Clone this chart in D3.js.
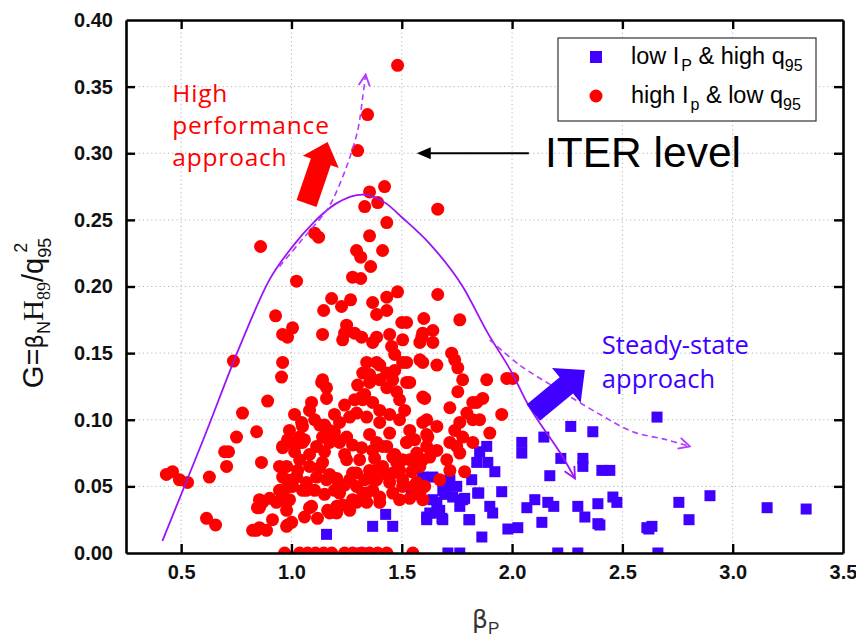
<!DOCTYPE html>
<html><head><meta charset="utf-8">
<script src="https://cdn.jsdelivr.net/npm/d3@7/dist/d3.min.js"></script>
<style>body{margin:0;background:#fff}svg{display:block}</style>
</head><body><svg id="c" width="856" height="638"></svg>
<script>
// ---- data (beta_P, G) ----
const xTicks = [0.5,1.0,1.5,2.0,2.5,3.0,3.5];
const yTicks = [0,0.05,0.10,0.15,0.20,0.25,0.30,0.35,0.40];

const blueX = [2.657,2.266,2.366,2.044,2.044,2.144,2.221,2.321,2.321,2.407,2.443,2.171,1.885,1.853,1.840,1.890,1.922,1.817,1.953,1.849,1.776,1.899,1.912,1.808,1.863,1.981,2.026,2.067,2.103,2.162,2.189,2.135,2.298,2.330,2.389,2.389,2.457,2.475,2.611,2.634,2.620,2.756,2.802,2.897,3.156,3.333,1.709,1.763,2.207,2.298,2.661,1.318,1.686,1.731,1.641,1.659,1.686,1.718,1.641,1.595,1.709,1.749,1.695,1.785,1.844,1.659,1.672,1.613,1.682,1.627,1.763,1.804,2.398,1.159,1.368,1.427,1.459,1.613,1.595,1.544,1.187];
const blueY = [0.102,0.095,0.091,0.083,0.075,0.087,0.071,0.071,0.065,0.062,0.062,0.058,0.080,0.076,0.068,0.068,0.061,0.055,0.046,0.045,0.040,0.035,0.030,0.025,0.012,0.018,0.019,0.034,0.040,0.038,0.035,0.023,0.035,0.027,0.037,0.022,0.042,0.038,0.019,0.020,0.018,0.038,0.025,0.043,0.034,0.033,0,0,0,0,0,0,0.047,0.042,0.040,0.030,0.025,0.055,0.057,0.055,0.050,0.050,0.044,0.041,0.045,0.038,0.032,0.027,0.026,0.030,0.035,0.025,0.021,0.014,0.020,0.029,0.020,0.025,0.057,0.044,0.030];

const redX = [1.481,1.345,1.300,1.354,1.422,1.391,1.332,1.432,1.663,1.105,1.123,0.860,1.354,1.413,1.295,1.314,1.359,1.277,1.314,1.023,1.182,1.227,1.268,1.146,1.368,1.386,1.432,1.432,1.481,1.663,0.928,1.005,0.982,1.141,1.250,1.241,1.286,1.318,1.445,1.500,1.522,1.600,1.763,1.591,1.641,0.960,1.232,1.368,1.454,1.468,1.582,0.737,0.960,0.955,1.141,1.159,1.159,0.892,0.778,1.091,1.082,1.341,1.386,1.323,1.432,1.459,1.300,1.354,1.318,1.368,1.432,1.477,1.522,1.504,1.595,1.604,1.595,1.613,1.445,1.522,1.218,1.264,1.295,1.173,1.141,1.050,0.991,0.982,1.037,0.751,0.842,1.205,1.250,1.354,1.386,0.433,0.461,0.492,0.529,0.628,0.615,0.656,0.706,0.697,0.715,0.864,0.855,0.842,0.887,0.855,0.978,1.001,0.946,0.978,0.960,1.046,1.037,1.137,1.059,1.091,1.173,1.205,1.128,1.159,1.205,1.218,1.023,1.050,0.991,0.978,0.914,1.250,1.277,1.277,1.323,1.368,1.341,1.400,1.323,1.400,1.386,1.413,1.459,1.504,1.386,1.459,1.504,1.522,1.582,1.536,1.595,1.550,1.595,1.504,1.595,1.641,1.726,1.740,1.754,1.659,1.776,1.885,1.976,2.003,1.754,1.718,1.840,1.867,1.953,1.795,1.822,1.613,1.659,1.740,1.776,1.899,1.618,1.718,1.822,1.822,1.763,1.853,1.749,1.763,1.659,1.627,1.595,1.704,1.718,1.785,1.672,1.604,1.582,0.960,1.005,1.050,1.114,1.173,1.218,1.277,1.318,1.368,1.432,1.522,1.568,1.613,0.978,1.037,1.082,1.141,0.960,1.005,1.068,1.114,1.173,1.205,1.295,1.354,1.413,1.477,1.536,1.582,0.946,1.005,1.068,1.295,1.386,1.445,1.504,1.568,1.341,1.400,1.459,1.490,0.960,0.932,0.869,0.846,0.901,0.978,1.082,1.118,1.164,1.232,1.264,1.205,1.295,1.341,1.400,0.855,0.824,0.982,1.536,1.582,0.969,1.037,1.073,1.109,1.146,1.182,1.241,1.277,1.318,1.354,1.391,1.432,1.550,
  1.014,1.082,1.150,1.241,1.309,1.377,1.468,1.559,0.991,1.028,1.105,1.150,1.195,1.241,1.264,1.332,1.364,1.432,1.490,1.545,1.128,1.195,1.241,1.286,1.332,1.400,1.445,1.490,1.536,1.559,1.014,1.059,1.105,1.150,1.195,1.354,1.400,1.468,1.490,1.513];
const redY = [0.366,0.329,0.302,0.271,0.275,0.263,0.260,0.248,0.258,0.240,0.237,0.230,0.238,0.227,0.227,0.222,0.215,0.207,0.206,0.204,0.191,0.185,0.190,0.182,0.188,0.179,0.182,0.192,0.196,0.194,0.178,0.169,0.162,0.164,0.171,0.165,0.165,0.162,0.164,0.173,0.173,0.176,0.175,0.162,0.167,0.164,0.160,0.158,0.155,0.149,0.158,0.144,0.143,0.132,0.130,0.124,0.116,0.114,0.105,0.113,0.107,0.143,0.143,0.135,0.135,0.130,0.126,0.128,0.117,0.113,0.124,0.121,0.128,0.143,0.143,0.116,0.098,0.089,0.090,0.083,0.098,0.102,0.105,0.092,0.087,0.095,0.092,0.085,0.087,0.087,0.091,0.085,0.087,0.089,0.083,0.059,0.061,0.055,0.053,0.057,0.026,0.021,0.065,0.076,0.076,0.068,0.034,0.017,0.017,0.040,0.020,0.023,0.065,0.055,0.080,0.098,0.083,0.128,0.027,0.035,0.030,0.035,0.064,0.055,0.055,0.045,0.057,0.047,0.050,0.038,0.025,0.070,0.060,0.040,0.045,0.047,0.102,0.098,0.115,0.130,0.162,0.080,0.072,0.070,0.062,0.060,0.160,0.143,0.145,0.128,0.117,0.050,0.040,0.055,0.165,0.158,0.150,0.145,0.139,0.141,0.130,0.130,0.131,0.131,0.121,0.109,0.113,0.116,0.104,0.105,0.100,0.100,0.095,0.092,0.087,0.090,0.087,0.083,0.083,0.113,0.098,0.100,0.080,0.075,0.077,0.072,0.070,0.070,0.062,0.061,0.055,0.050,0.045,0.079,0.083,0.083,0.080,0.083,0.083,0.081,0.079,0.077,0.080,0.083,0.075,0.080,0.065,0.070,0.065,0.068,0.057,0.055,0.053,0.057,0.059,0.056,0.060,0.062,0.065,0.068,0.070,0.065,0.047,0.050,0.047,0.050,0.055,0.053,0.050,0.053,0.045,0.042,0.045,0.040,0.044,0.038,0.038,0.034,0.041,0.032,0.034,0.026,0.032,0.036,0.032,0.030,0.038,0.038,0.038,0.019,0.017,0.021,0.041,0.047,0,0,0,0,0,0,0,0,0,0,0,0,0,
  0.076,0.074,0.076,0.074,0.070,0.071,0.074,0.068,0.040,0.062,0.047,0.044,0.047,0.051,0.055,0.055,0.056,0.059,0.062,0.061,0.096,0.104,0.111,0.115,0.119,0.107,0.104,0.100,0.092,0.085,0.104,0.085,0.100,0.096,0.091,0.134,0.141,0.137,0.115,0.107];

// annotation paths (beta_P, G)
const archX = [0.415,0.600,0.778,0.900,1.000,1.100,1.200,1.323,1.432,1.500,1.627,1.776,1.890,2.000,2.067,2.230,2.285];
const archY = [0.009,0.085,0.160,0.205,0.229,0.248,0.262,0.269,0.262,0.252,0.232,0.200,0.165,0.135,0.113,0.072,0.056];
const upX = [0.946,1.037,1.159,1.187,1.250,1.300,1.323,1.336];
const upY = [0.215,0.233,0.257,0.265,0.290,0.317,0.342,0.359];
const ssX = [1.899,2.035,2.217,2.398,2.547,2.700,2.806];
const ssY = [0.160,0.141,0.122,0.104,0.091,0.085,0.080];

// ---- drawing ----
const W=856,H=638, L=126,T=20,R=843,B=553;
const svg = d3.select("#c");
const x = d3.scaleLinear([0.25,3.5],[L,R]);
const y = d3.scaleLinear([0,0.4],[B,T]);
const PURPLE="#9b14f5", BLUE="#4000ff", RED="#ff0000", DASH="#b23cff";

svg.append("rect").attr("width",W).attr("height",H).attr("fill","#fff");
const defs = svg.append("defs");
defs.append("clipPath").attr("id","clip").append("rect").attr("x",L).attr("y",T).attr("width",R-L).attr("height",B-T);
function vmarker(id,color){
  defs.append("marker").attr("id",id).attr("viewBox","0 0 10 10").attr("refX",9).attr("refY",5)
   .attr("markerWidth",14).attr("markerHeight",14).attr("markerUnits","userSpaceOnUse").attr("orient","auto")
   .append("path").attr("d","M1,1 L9,5 L1,9").attr("fill","none").attr("stroke",color).attr("stroke-width",1.3);
}
vmarker("mArch",PURPLE); vmarker("mDash",DASH);

// grid
const grid = svg.append("g").attr("stroke","#b5b5b5").attr("stroke-width",1).attr("stroke-dasharray","1.2,3");
grid.selectAll(".gx").data(xTicks.slice(0,-1)).join("line").attr("x1",d=>x(d)).attr("x2",d=>x(d)).attr("y1",T).attr("y2",B);
grid.selectAll(".gy").data(yTicks.slice(1,-1)).join("line").attr("x1",L).attr("x2",R).attr("y1",d=>y(d)).attr("y2",d=>y(d));

// points
const pts = svg.append("g").attr("clip-path","url(#clip)");
const blue = blueX.map((v,i)=>[v,blueY[i]]);
const red = redX.map((v,i)=>[v,redY[i]]);
pts.selectAll(".b").data(blue).join("rect").attr("x",d=>x(d[0])-5.5).attr("y",d=>y(d[1])-5.5)
  .attr("width",11).attr("height",11).attr("fill",BLUE);
pts.selectAll(".r").data(red).join("circle").attr("cx",d=>x(d[0])).attr("cy",d=>y(d[1])).attr("r",6.5).attr("fill",RED);

// curves
const smooth = d3.line().x(d=>x(d[0])).y(d=>y(d[1])).curve(d3.curveMonotoneX);
const cr = d3.line().x(d=>x(d[0])).y(d=>y(d[1])).curve(d3.curveCatmullRom.alpha(0.5));
svg.append("path").attr("d",smooth(archX.map((v,i)=>[v,archY[i]]))).attr("fill","none")
  .attr("stroke",PURPLE).attr("stroke-width",1.8).attr("marker-end","url(#mArch)");
svg.append("path").attr("d",cr(upX.map((v,i)=>[v,upY[i]]))).attr("fill","none")
  .attr("stroke",DASH).attr("stroke-width",1.6).attr("stroke-dasharray","6,4").attr("marker-end","url(#mDash)");
svg.append("path").attr("d",cr(ssX.map((v,i)=>[v,ssY[i]]))).attr("fill","none")
  .attr("stroke",DASH).attr("stroke-width",1.6).attr("stroke-dasharray","6,4").attr("marker-end","url(#mDash)");

// block arrows
function blockArrow(x0,y0,x1,y1,bodyW,headW,headL,color){
  const px0=x(x0),py0=y(y0),px1=x(x1),py1=y(y1);
  const len=Math.hypot(px1-px0,py1-py0), ang=Math.atan2(py1-py0,px1-px0)*180/Math.PI;
  const b=bodyW/2,h=headW/2,s=len-headL;
  svg.append("path").attr("transform",`translate(${px0},${py0}) rotate(${ang})`)
    .attr("d",`M0,${-b} L${s},${-b} L${s},${-h} L${len},0 L${s},${h} L${s},${b} L0,${b} Z`).attr("fill",color);
}
blockArrow(1.0685,0.2623,1.1638,0.3084,21,38,21,RED);
blockArrow(2.0962,0.1054,2.3299,0.1373,21,45,24,BLUE);

// ITER arrow
const iy=y(0.30);
svg.append("line").attr("x1",x(2.076)).attr("x2",x(1.568)+12).attr("y1",iy).attr("y2",iy).attr("stroke","#000").attr("stroke-width",2);
svg.append("path").attr("d",`M${x(1.568)},${iy} L${x(1.568)+14},${iy-6} L${x(1.568)+14},${iy+6} Z`).attr("fill","#000");
svg.append("text").attr("x",x(2.149)).attr("y",iy+14).attr("font-family","Liberation Sans, Arial, sans-serif")
  .attr("font-size",42.5).attr("fill","#000").text("ITER level");

// text annotations (one text element per line)
["High","performance","approach"].forEach((t,i)=>svg.append("text").attr("x",x(0.46)).attr("y",102+i*32)
  .attr("font-family","Open Sans, Noto Sans, sans-serif").attr("font-size",24.5).attr("letter-spacing",0.8).attr("fill",RED).text(t));
["Steady-state","approach"].forEach((t,i)=>svg.append("text").attr("x",x(2.407)).attr("y",354+i*34)
  .attr("font-family","Open Sans, Noto Sans, sans-serif").attr("font-size",25.5).attr("fill",BLUE).text(t));

// axes
const ax = svg.append("g").attr("font-family","Liberation Sans, Arial, sans-serif");
const fmtY=d3.format(".2f"), fmtX=d3.format(".1f");
const gB = ax.append("g").attr("transform",`translate(0,${B})`).call(d3.axisBottom(x).tickValues(xTicks).tickFormat(fmtX).tickSize(-9).tickSizeOuter(0).tickPadding(12));
const gL = ax.append("g").attr("transform",`translate(${L},0)`).call(d3.axisLeft(y).tickValues(yTicks).tickFormat(fmtY).tickSize(-9).tickSizeOuter(0).tickPadding(13));
const gT = ax.append("g").attr("transform",`translate(0,${T})`).call(d3.axisTop(x).tickValues(xTicks).tickFormat("").tickSize(-9).tickSizeOuter(0));
const gR = ax.append("g").attr("transform",`translate(${R},0)`).call(d3.axisRight(y).tickValues(yTicks).tickFormat("").tickSize(-9).tickSizeOuter(0));
[gB,gL,gT,gR].forEach(g=>{
  g.select(".domain").attr("stroke","#000").attr("stroke-width",2.6);
  g.selectAll(".tick line").attr("stroke","#000").attr("stroke-width",2.4);
  g.selectAll(".tick text").attr("font-size",20).attr("font-weight","bold").attr("fill","#111");
});
gB.selectAll(".tick").filter(d=>d===3.5).select("line").remove();
gL.selectAll(".tick").filter(d=>d===0||d===0.4).select("line").remove();
gT.selectAll(".tick").filter(d=>d===3.5).select("line").remove();
gR.selectAll(".tick").filter(d=>d===0||d===0.4).select("line").remove();

// legend
const lg = svg.append("g");
lg.append("rect").attr("x",558).attr("y",38).attr("width",258).attr("height",83).attr("fill","#fff").attr("stroke","#333").attr("stroke-width",1.2);
lg.append("rect").attr("x",590).attr("y",51).attr("width",12).attr("height",12).attr("fill",BLUE);
lg.append("circle").attr("cx",596).attr("cy",96).attr("r",6.5).attr("fill",RED);
function legText(yy,a,sub,b,sub2){
  const t=lg.append("text").attr("x",631).attr("y",yy).attr("font-family","Liberation Sans, Arial, sans-serif").attr("font-size",23.5).attr("fill","#000");
  t.append("tspan").text(a);
  t.append("tspan").attr("font-size",16).attr("dy",7).attr("dx",2).text(sub);
  t.append("tspan").attr("dy",-7).text(b);
  t.append("tspan").attr("font-size",16).attr("dy",7).text(sub2);
}
legText(64,"low I","P"," & high q","95");
legText(103,"high I","p"," & low q","95");

// axis titles
const yl = svg.append("text").attr("transform","translate(43,313) rotate(-90)").attr("text-anchor","middle").attr("fill","#111").attr("font-size",29).attr("font-family","Liberation Sans, Arial, sans-serif");
yl.append("tspan").text("G=");
yl.append("tspan").attr("font-family","DejaVu Sans").attr("font-size",23).text("β");
yl.append("tspan").attr("font-size",18).attr("dy",7).text("N");
yl.append("tspan").attr("dy",-7).attr("font-family","Liberation Serif, Times New Roman, serif").text("H");
yl.append("tspan").attr("dy",7).attr("font-size",18).attr("font-family","Liberation Serif, Times New Roman, serif").text("89");
yl.append("tspan").attr("dy",-7).text("/q");
yl.append("tspan").attr("dy",8).attr("font-size",18).text("95");
yl.append("tspan").attr("dx",-15).attr("dy",-24).attr("font-size",18).text("2");
const xl = svg.append("text").attr("x",472).attr("y",628).attr("fill","#333").attr("font-size",26).attr("font-family","DejaVu Sans, sans-serif");
xl.append("tspan").attr("font-size",25).text("β");
xl.append("tspan").attr("font-size",17).attr("dy",6).attr("font-family","Liberation Sans, Arial").text("P");
</script></body></html>
